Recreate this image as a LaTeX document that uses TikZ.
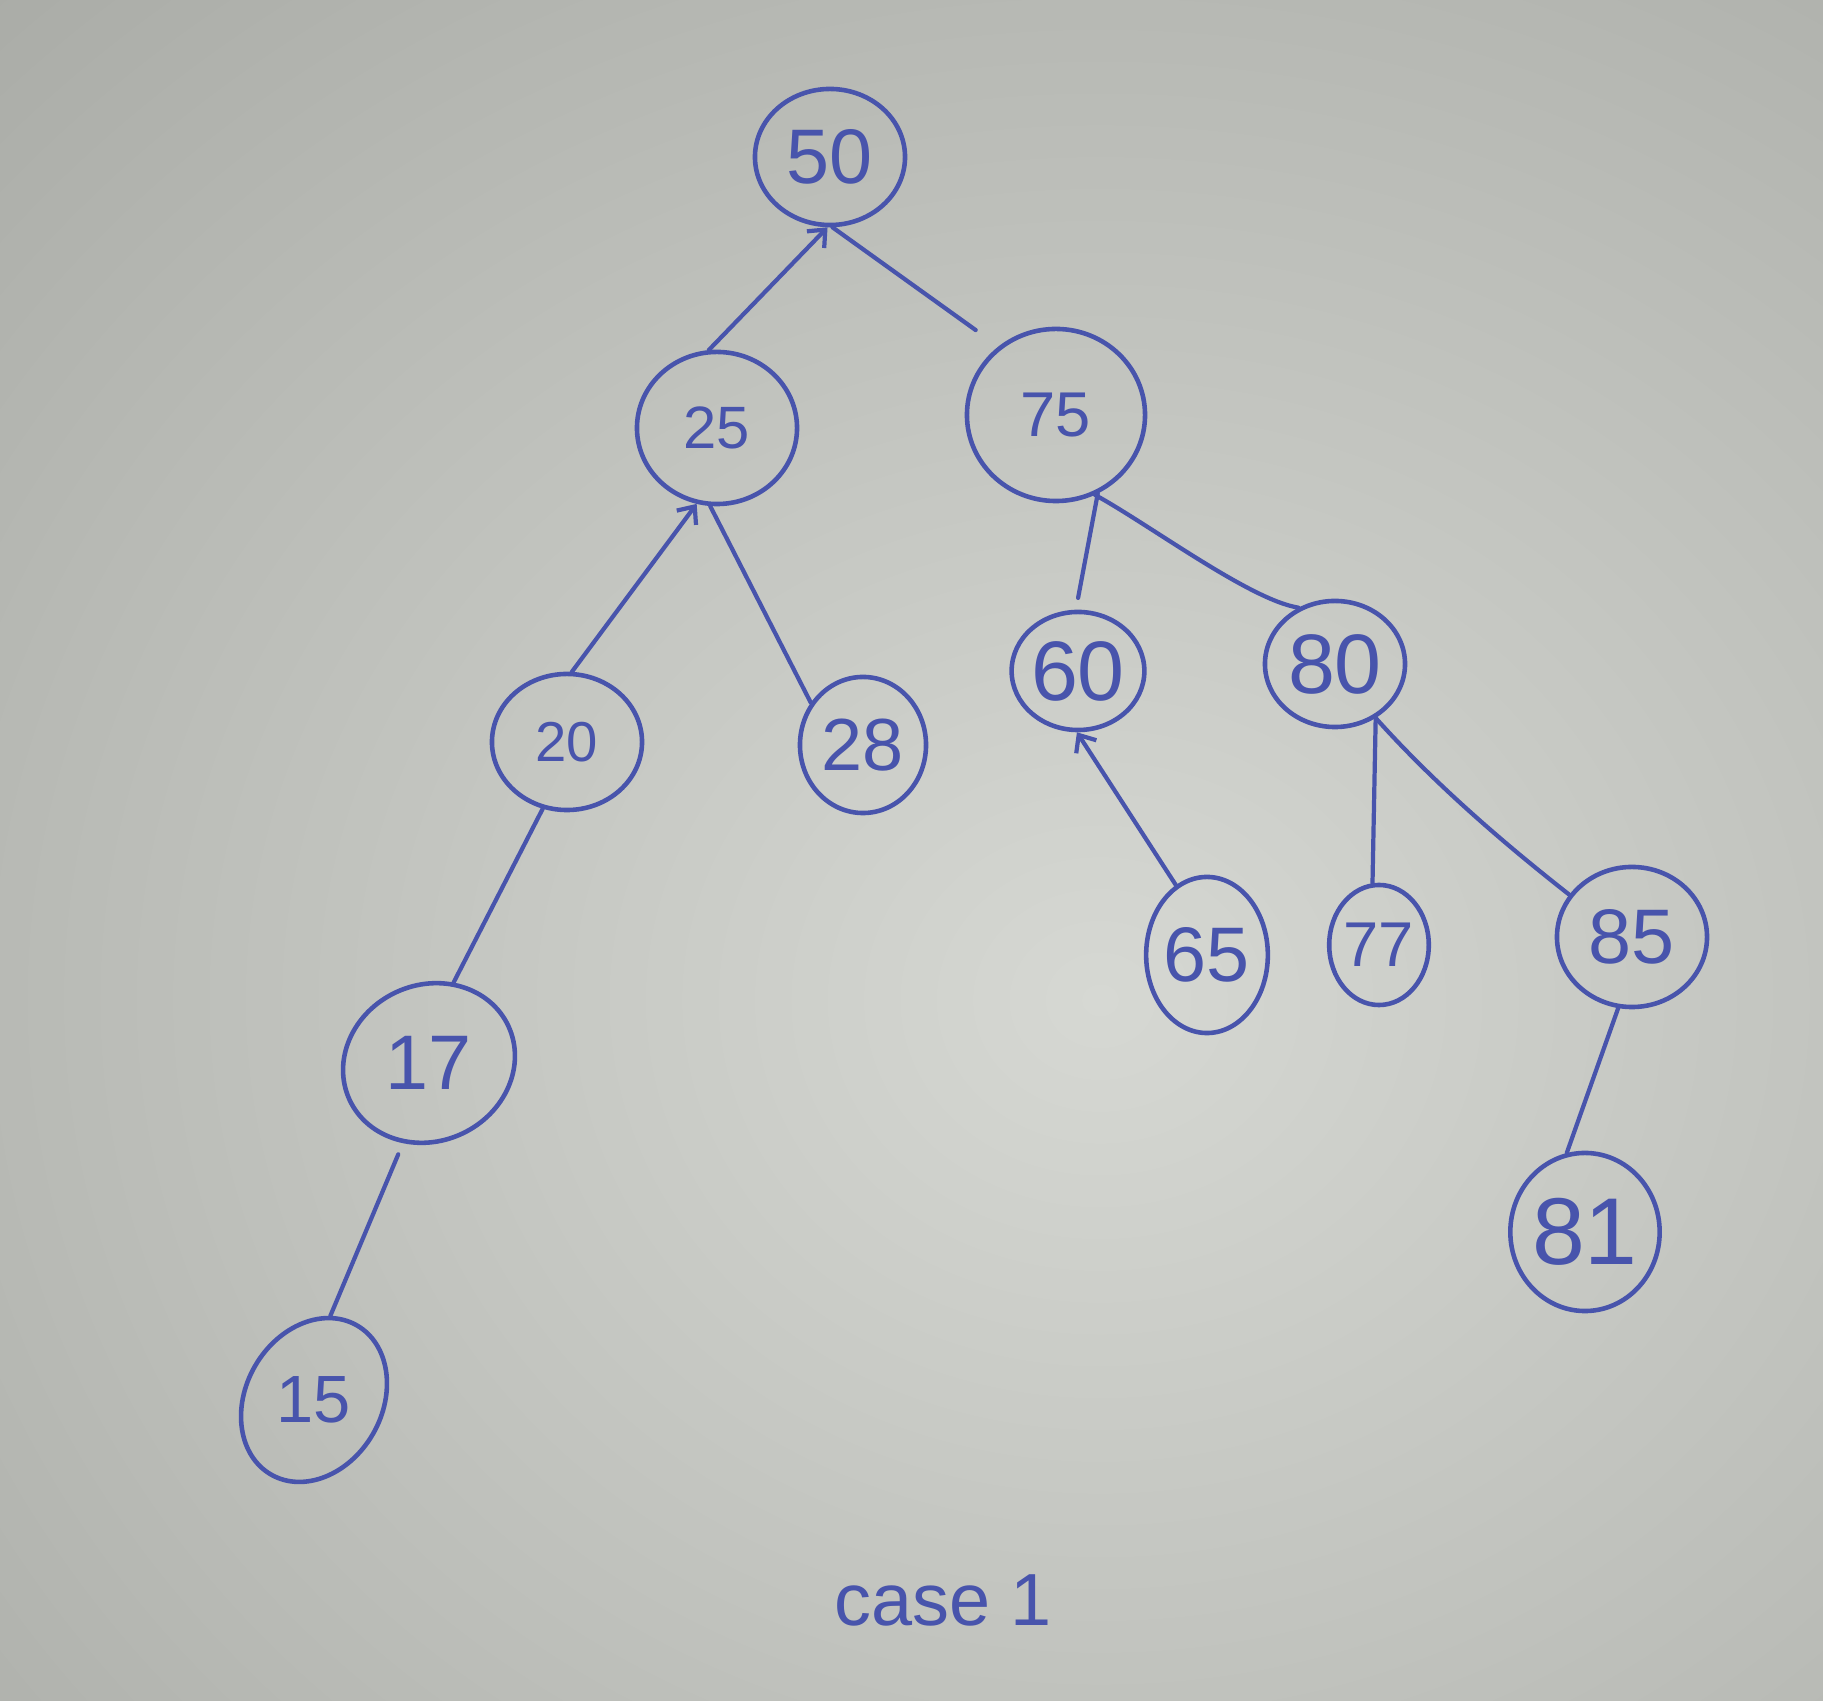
\documentclass[tikz,border=0pt]{standalone}
\usepackage{fontspec}
\setmainfont{Liberation Sans}
\usetikzlibrary{shapes.geometric,arrows.meta}
\definecolor{ink}{RGB}{72,84,172}
\definecolor{paperin}{RGB}{214,216,211}
\definecolor{paperout}{RGB}{170,172,167}
\tikzset{
  tnode/.style={ellipse,draw=ink,line width=1.3pt,inner sep=0pt,text=ink},
  edge/.style={draw=ink,line width=1.2pt,line cap=round},
  tip/.style={-{Straight Barb[length=0.14cm,width=0.24cm,line width=1.2pt]}},
  fs/.style={font=\fontsize{#1}{#1}\selectfont}
}
\begin{document}
\begin{tikzpicture}[x=0.01cm,y=-0.01cm]
\begin{scope}
\clip (0,0) rectangle (1823,1701);
\shade[inner color=paperin,outer color=paperout] (-500,-400) rectangle (2700,2400);
\end{scope}
\path[use as bounding box] (0,0) rectangle (1823,1701);

\node[tnode,fs=22pt,minimum width=1.50cm,minimum height=1.36cm] (n50) at (830,157) {50};
\node[tnode,fs=17pt,minimum width=1.60cm,minimum height=1.52cm] (n25) at (717,428) {25};
\node[tnode,fs=18pt,minimum width=1.78cm,minimum height=1.72cm] (n75) at (1056,415) {75};
\node[tnode,fs=16pt,minimum width=1.50cm,minimum height=1.36cm] (n20) at (567,742) {20};
\node[tnode,fs=21pt,minimum width=1.26cm,minimum height=1.36cm] (n28) at (863,745) {28};
\node[tnode,fs=24pt,minimum width=1.30cm,minimum height=1.18cm] (n60) at (1078,671) {60};
\node[tnode,fs=24pt,minimum width=1.40cm,minimum height=1.26cm] (n80) at (1335,664) {80};
\node[tnode,fs=22pt,minimum width=1.75cm,minimum height=1.56cm,rotate=25] (n17) at (429,1063) {\rotatebox{-25}{17}};
\node[tnode,fs=19pt,minimum width=1.36cm,minimum height=1.72cm,rotate=-30] (n15) at (314,1400) {\rotatebox{30}{15}};
\node[tnode,fs=22pt,minimum width=1.20cm,minimum height=1.56cm] (n65) at (1207,955) {65};
\node[tnode,fs=18pt,minimum width=0.98cm,minimum height=1.20cm] (n77) at (1379,945) {77};
\node[tnode,fs=22pt,minimum width=1.50cm,minimum height=1.40cm] (n85) at (1632,937) {85};
\node[tnode,fs=27pt,minimum width=1.16cm,minimum height=1.58cm] (n81) at (1585,1232) {81};
\node[text=ink,fs=21pt,inner sep=0pt] (cap) at (943,1600) {case 1};

\draw[edge,tip] (n25.96) -- (n50.268);
\draw[edge,shorten <=0.28cm] (n75.130) -- (n50.272);
\draw[edge,tip] (n20.86) -- (n25.255);
\draw[edge] (n25.265) -- (n28.141);
\draw[edge,shorten >=0.12cm] (n75.298) -- (n60.92);
\draw[edge] (n75.296) .. controls (1150,525) and (1250,600) .. (n80.123);
\draw[edge,tip] (n65.114) -- (n60.269);
\draw[edge] (n80.307) -- (n77.96);
\draw[edge] (n80.307) .. controls (1440,790) and (1515,852) .. (n85.146);
\draw[edge] (n85.259) -- (n81.103);
\draw[edge] (n20.250) -- (n17.48);
\draw[edge,shorten <=0.12cm] (n17.227) -- (n15.109);
\end{tikzpicture}
\end{document}
